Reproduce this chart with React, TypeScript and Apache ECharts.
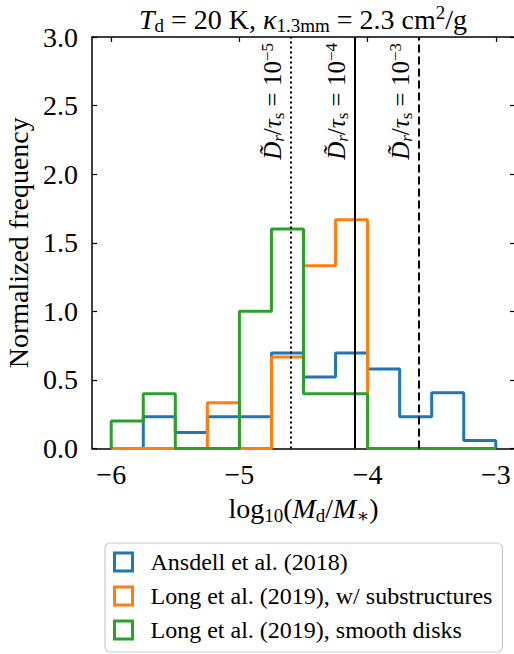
import React, { useEffect, useRef } from 'react';
import * as echarts from 'echarts';

const binEdges = [-6, -5.75, -5.5, -5.25, -5, -4.75, -4.5, -4.25, -4, -3.75, -3.5, -3.25, -3];
const ansdell = [0, 0.232, 0.116, 0.232, 0.232, 0.696, 0.522, 0.696, 0.58, 0.232, 0.406, 0.058];
const longSub = [0, 0, 0, 0.333, 0, 0.667, 1.333, 1.667, 0, 0, 0, 0];
const longSmooth = [0.2, 0.4, 0, 0, 1.0, 1.6, 0.4, 0.4, 0, 0, 0, 0];
const seriesNames = [
  'Ansdell et al. (2018)',
  'Long et al. (2019), w/ substructures',
  'Long et al. (2019), smooth disks',
];
const seriesColors = ['#1f77b4', '#ff7f0e', '#2ca02c'];
const xTicks = [-6, -5, -4, -3];
const diffLines = [-4.6, -4.1, -3.6];
const diffExponents = ['−5', '−4', '−3'];
const diffLineTypes: any[] = [[2, 3], 'solid', [8, 4]];

const FONT = '"Liberation Serif", "DejaVu Serif", serif';
const FS = 28;
const SFS = 19;

function makeRich(fs: number, sfs: number, lh: number, slh: number) {
  return {
    rm: { fontFamily: FONT, fontSize: fs, lineHeight: lh, color: '#000' },
    it: { fontFamily: FONT, fontSize: fs, fontStyle: 'italic', lineHeight: lh, color: '#000' },
    sub: { fontFamily: FONT, fontSize: sfs, lineHeight: slh, verticalAlign: 'bottom', color: '#000' },
    subit: { fontFamily: FONT, fontSize: sfs, fontStyle: 'italic', lineHeight: slh, verticalAlign: 'bottom', color: '#000' },
    sup: { fontFamily: FONT, fontSize: sfs, lineHeight: slh, verticalAlign: 'top', color: '#000' },
  };
}
const rich = makeRich(FS, SFS, 32, 14);
const richLbl = makeRich(25, 17, 28, 12);

function stepPoints(values: number[]) {
  const pts: number[][] = [[binEdges[0], 0]];
  values.forEach((v, i) => {
    pts.push([binEdges[i], v]);
    pts.push([binEdges[i + 1], v]);
  });
  pts.push([binEdges[binEdges.length - 1], 0]);
  return pts;
}

const minus = (v: number) => (v < 0 ? '−' + String(Math.abs(v)) : String(v));

export default function App() {
  const ref = useRef<HTMLDivElement>(null);
  useEffect(() => {
    if (!ref.current) return;
    const chart = echarts.init(ref.current, null, { renderer: 'svg' });
    const data = [ansdell, longSub, longSmooth];
    const histSeries = data.map((vals, i) => ({
      name: seriesNames[i],
      type: 'line',
      data: stepPoints(vals),
      symbol: 'none',
      showSymbol: false,
      lineStyle: { color: seriesColors[i], width: 3 },
      itemStyle: { color: seriesColors[i] },
      z: 2 + i,
      silent: true,
    }));
    const lineSeries = {
      name: 'refs',
      type: 'line',
      data: [],
      z: 10,
      markLine: {
        symbol: ['none', 'none'],
        silent: true,
        animation: false,
        data: diffLines.map((x, i) => ({
          xAxis: x,
          lineStyle: { type: diffLineTypes[i], color: '#000', width: 2 },
          label: {
            show: true,
            position: 'insideEndTop',
            distance: [6, 4],
            formatter: () =>
              `{it|D\u0303}{subit|r}{rm|/}{it|τ}{sub|s}{rm| = 10}{sup|${diffExponents[i]}}`,
            rich: richLbl,
          },
        })),
      },
    };
    const axisFont = { fontFamily: FONT, fontSize: FS, color: '#000' };
    const spine = { show: true, onZero: false, lineStyle: { color: '#000', width: 1.5 } };
    const tickStyle = { color: '#000', width: 1.2 };
    const option: any = {
      animation: false,
      grid: { left: 92, top: 37, width: 423, height: 411.5, outerBoundsMode: 'none', containLabel: false },
      xAxis: [
        {
          type: 'value',
          position: 'bottom',
          min: -6.15,
          max: -2.85,
          axisLine: spine,
          axisTick: { show: true, inside: true, length: 5, customValues: xTicks, lineStyle: tickStyle },
          axisLabel: { show: true, customValues: xTicks, margin: 12, formatter: (v: number) => minus(v), ...axisFont },
          splitLine: { show: false },
          name: '{rm|log}{sub|10}{rm|(}{it|M}{sub|d}{rm|/}{it|M}{sub|∗}{rm|)}',
          nameLocation: 'middle',
          nameGap: 44,
          nameTextStyle: { rich, ...axisFont },
        },
        {
          type: 'value',
          position: 'top',
          min: -6.15,
          max: -2.85,
          axisLine: spine,
          axisTick: { show: true, inside: true, length: 5, customValues: xTicks, lineStyle: tickStyle },
          axisLabel: { show: false },
          splitLine: { show: false },
        },
      ],
      yAxis: [
        {
          type: 'value',
          position: 'left',
          min: 0,
          max: 3,
          interval: 0.5,
          axisLine: spine,
          axisTick: { show: true, inside: true, length: 5, lineStyle: tickStyle },
          axisLabel: { show: true, margin: 14, formatter: (v: number) => v.toFixed(1), ...axisFont },
          splitLine: { show: false },
          name: 'Normalized frequency',
          nameLocation: 'middle',
          nameGap: 50,
          nameTextStyle: { ...axisFont },
        },
        {
          type: 'value',
          position: 'right',
          min: 0,
          max: 3,
          interval: 0.5,
          axisLine: spine,
          axisTick: { show: true, inside: true, length: 5, lineStyle: tickStyle },
          axisLabel: { show: false },
          splitLine: { show: false },
        },
      ],
      legend: {
        show: true,
        orient: 'vertical',
        left: 105,
        top: 543,
        padding: [7, 10, 10, 8],
        itemGap: 10,
        itemWidth: 18,
        itemHeight: 18,
        icon: 'rect',
        borderColor: '#cccccc',
        borderWidth: 1.2,
        borderRadius: 5,
        backgroundColor: 'rgba(255,255,255,0.8)',
        selectedMode: false,
        textStyle: { fontFamily: FONT, fontSize: 24, color: '#000', lineHeight: 24, padding: [0, 0, 0, 13] },
        data: seriesNames.map((n, i) => ({
          name: n,
          icon: 'rect',
          itemStyle: { color: 'rgba(0,0,0,0)', borderColor: seriesColors[i], borderWidth: 3 },
        })),
      },
      graphic: [
        {
          type: 'text',
          x: 303,
          y: 19,
          style: {
            text: '{it|T}{sub|d}{rm| = 20 K, }{it|κ}{sub|1.3mm}{rm| = 2.3 cm}{sup|2}{rm|/g}',
            rich,
            align: 'center',
            verticalAlign: 'middle',
            fontFamily: FONT,
            fontSize: FS,
          },
        },
      ],
      series: [...histSeries, lineSeries],
    };
    chart.setOption(option);
    return () => chart.dispose();
  }, []);
  return (
    <div
      ref={ref}
      style={{ position: 'absolute', left: 0, top: 0, width: 514, height: 654, background: '#fff' }}
    />
  );
}
